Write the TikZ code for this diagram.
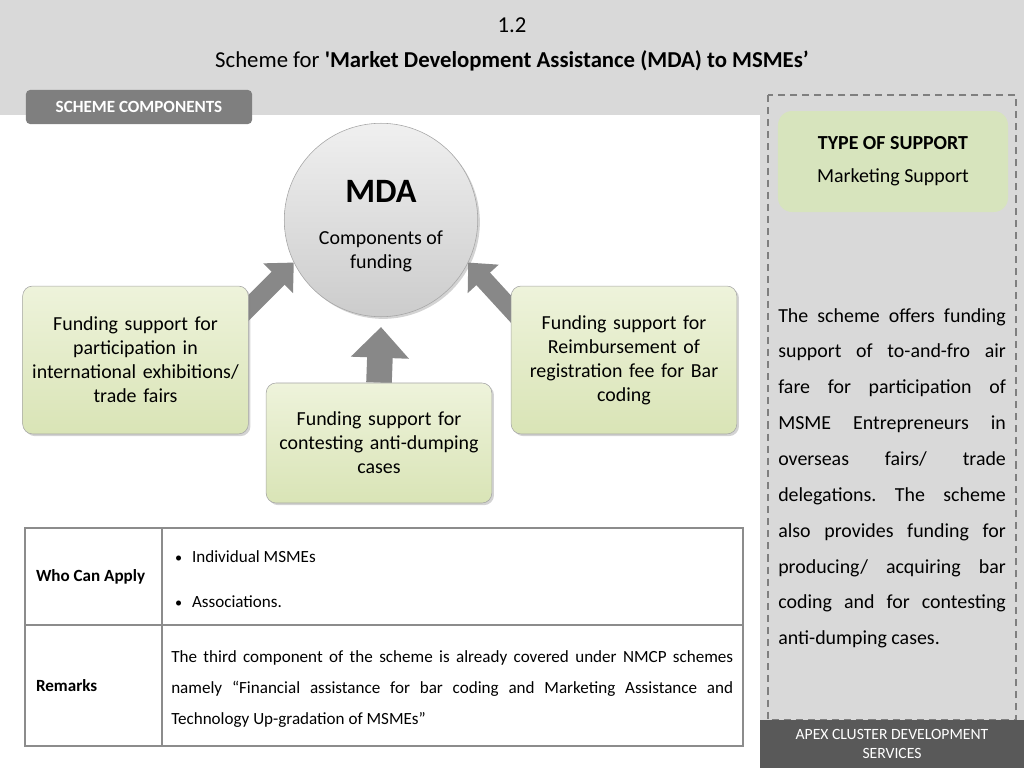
\documentclass[tikz,border=0pt]{standalone}
\usepackage{fontspec}
\setmainfont{Carlito}
\usetikzlibrary{arrows.meta, positioning, calc, backgrounds, shadows}
\definecolor{mdaBand}{HTML}{D9D9D9}
\definecolor{mdaTab}{HTML}{7F7F7F}
\definecolor{mdaFoot}{HTML}{595959}
\definecolor{mdaGreen}{HTML}{D7E4BD}
\definecolor{mdaGreenTop}{HTML}{EEF3DB}
\definecolor{mdaGreenBot}{HTML}{D9E4B6}
\definecolor{mdaEdge}{HTML}{A6A6A6}
\definecolor{mdaArrow}{HTML}{888888}
\definecolor{mdaLine}{HTML}{8C8C8C}
\tikzset{
  tabbox/.style={rectangle, rounded corners=3pt, fill=mdaTab, text=white,
    minimum width=159pt, minimum height=24pt, font=\bfseries\fontsize{12}{14}\selectfont},
  greenbox/.style={rectangle, rounded corners=7pt, draw=mdaEdge, thin,
    top color=mdaGreenTop, bottom color=mdaGreenBot, minimum width=156pt,
    text width=152pt, align=center, font=\fontsize{14}{16.9}\selectfont,
    drop shadow={opacity=0.35, shadow xshift=1.5pt, shadow yshift=-1.5pt}},
  mdacircle/.style={circle, draw=mdaEdge, top color=gray!12, bottom color=gray!40,
    minimum size=136pt, inner sep=0pt, align=center, font=\fontsize{14}{16.9}\selectfont,
    drop shadow={opacity=0.35, shadow xshift=1.5pt, shadow yshift=-1.5pt}},
  typebox/.style={rectangle, rounded corners=10pt, fill=mdaGreen, minimum width=161.7pt,
    minimum height=71pt, align=center, font=\fontsize{14}{23}\selectfont},
  footbox/.style={rectangle, fill=mdaFoot, text=white, minimum width=185.6pt,
    minimum height=33.7pt, align=center, font=\fontsize{11}{13.4}\selectfont},
  fatarrow/.style={-{Triangle[length=#1*1.2, width=#1*2.2]}, line width=#1, mdaArrow},
  dashframe/.style={draw=mdaTab, line width=1.3pt, dash pattern=on 5pt off 3.5pt},
  tableline/.style={draw=mdaLine, line width=1.2pt},
  celltext/.style={anchor=west, font=\fontsize{12}{14}\selectfont}
}
\newcommand{\mdabullet}{\makebox[12pt][l]{\fontsize{10}{10}\selectfont\textbullet}}
\frenchspacing
\begin{document}
\begin{tikzpicture}[x=0.703pt, y=-0.703pt]
  \useasboundingbox (0,0) rectangle (1024,768);
  \begin{scope}[on background layer]
    \fill[mdaBand] (0,0) rectangle (1024,115);
    \fill[mdaBand] (760,0) rectangle (1024,768);
  \end{scope}

  % heading
  \node[font=\fontsize{16}{19}\selectfont] (num) at (512,25) {1.2};
  \node[font=\fontsize{16}{19}\selectfont] (title) at (512,61)
    {Scheme for \textbf{\textquotesingle Market Development Assistance (MDA) to MSMEs’}};
  \node[tabbox] (tab) at (139,107) {SCHEME COMPONENTS};

  % components
  \node[mdacircle] (mda) at (381,220)
    {\rule{0pt}{24pt}\fontsize{24}{28}\selectfont\bfseries MDA\\[13pt]
     \fontsize{14}{16.9}\selectfont\mdseries Components of\\funding};
  \node[greenbox, minimum height=104pt] (lbox) at (135.5,360)
    {Funding support for\\participation in\\international exhibitions/\\trade fairs};
  \node[greenbox, minimum height=84.4pt] (mbox) at (379,443)
    {Funding support for\\contesting anti-dumping\\cases};
  \node[greenbox, minimum height=104pt] (rbox) at (624,360)
    {Funding support for\\Reimbursement of\\registration fee for Bar\\coding};

  \begin{scope}[on background layer]
    \draw[fatarrow=13pt] ($(lbox.north east)+(-10,32)$) -- (mda.206);
    \draw[fatarrow=18pt] (mbox.north) -- ($(mda.south)+(0,10)$);
    \draw[fatarrow=13pt] ($(rbox.north west)+(8,32)$) -- (mda.334);
  \end{scope}

  % side panel
  \draw[dashframe] (768,95) rectangle (1016,720);
  \node[typebox] (type) at (893,161.5) {\textbf{TYPE OF SUPPORT}\\Marketing Support};
  \node[anchor=north west, text width=160pt, align=justify, inner sep=0pt,
    font=\fontsize{14}{25.2}\selectfont] (about) at (778,308)
    {\hyphenpenalty=10000 The scheme offers funding\linebreak
     support of to-and-fro air\linebreak
     fare for participation of\linebreak
     MSME Entrepreneurs in\linebreak
     overseas fairs/ trade\linebreak
     delegations. The scheme\linebreak
     also provides funding for\linebreak
     producing/ acquiring bar\linebreak
     coding and for contesting\linebreak
     anti-dumping cases.};
  \node[footbox] (foot) at (892,744) {APEX CLUSTER DEVELOPMENT\\SERVICES};

  % table
  \draw[tableline] (25,528) rectangle (743,746);
  \draw[tableline] (162,528) -- (162,746);
  \draw[tableline] (25,625) -- (743,625);
  \node[celltext, font=\bfseries\fontsize{12}{14}\selectfont] (who) at (31,577) {Who Can Apply};
  \node[celltext] (indiv) at (170,557) {\mdabullet Individual MSMEs};
  \node[celltext] (assoc) at (170,602) {\mdabullet Associations.};
  \node[celltext, font=\bfseries\fontsize{12}{14}\selectfont] (rem) at (31,686) {Remarks};
  \node[anchor=north west, text width=395pt, align=justify, inner sep=0pt,
    font=\fontsize{12}{21.8}\selectfont] (remtext) at (171,650)
    {The third component of the scheme is already covered under NMCP schemes\linebreak
     namely “Financial assistance for bar coding and Marketing Assistance and\linebreak
     Technology Up-gradation of MSMEs”};
\end{tikzpicture}
\end{document}
